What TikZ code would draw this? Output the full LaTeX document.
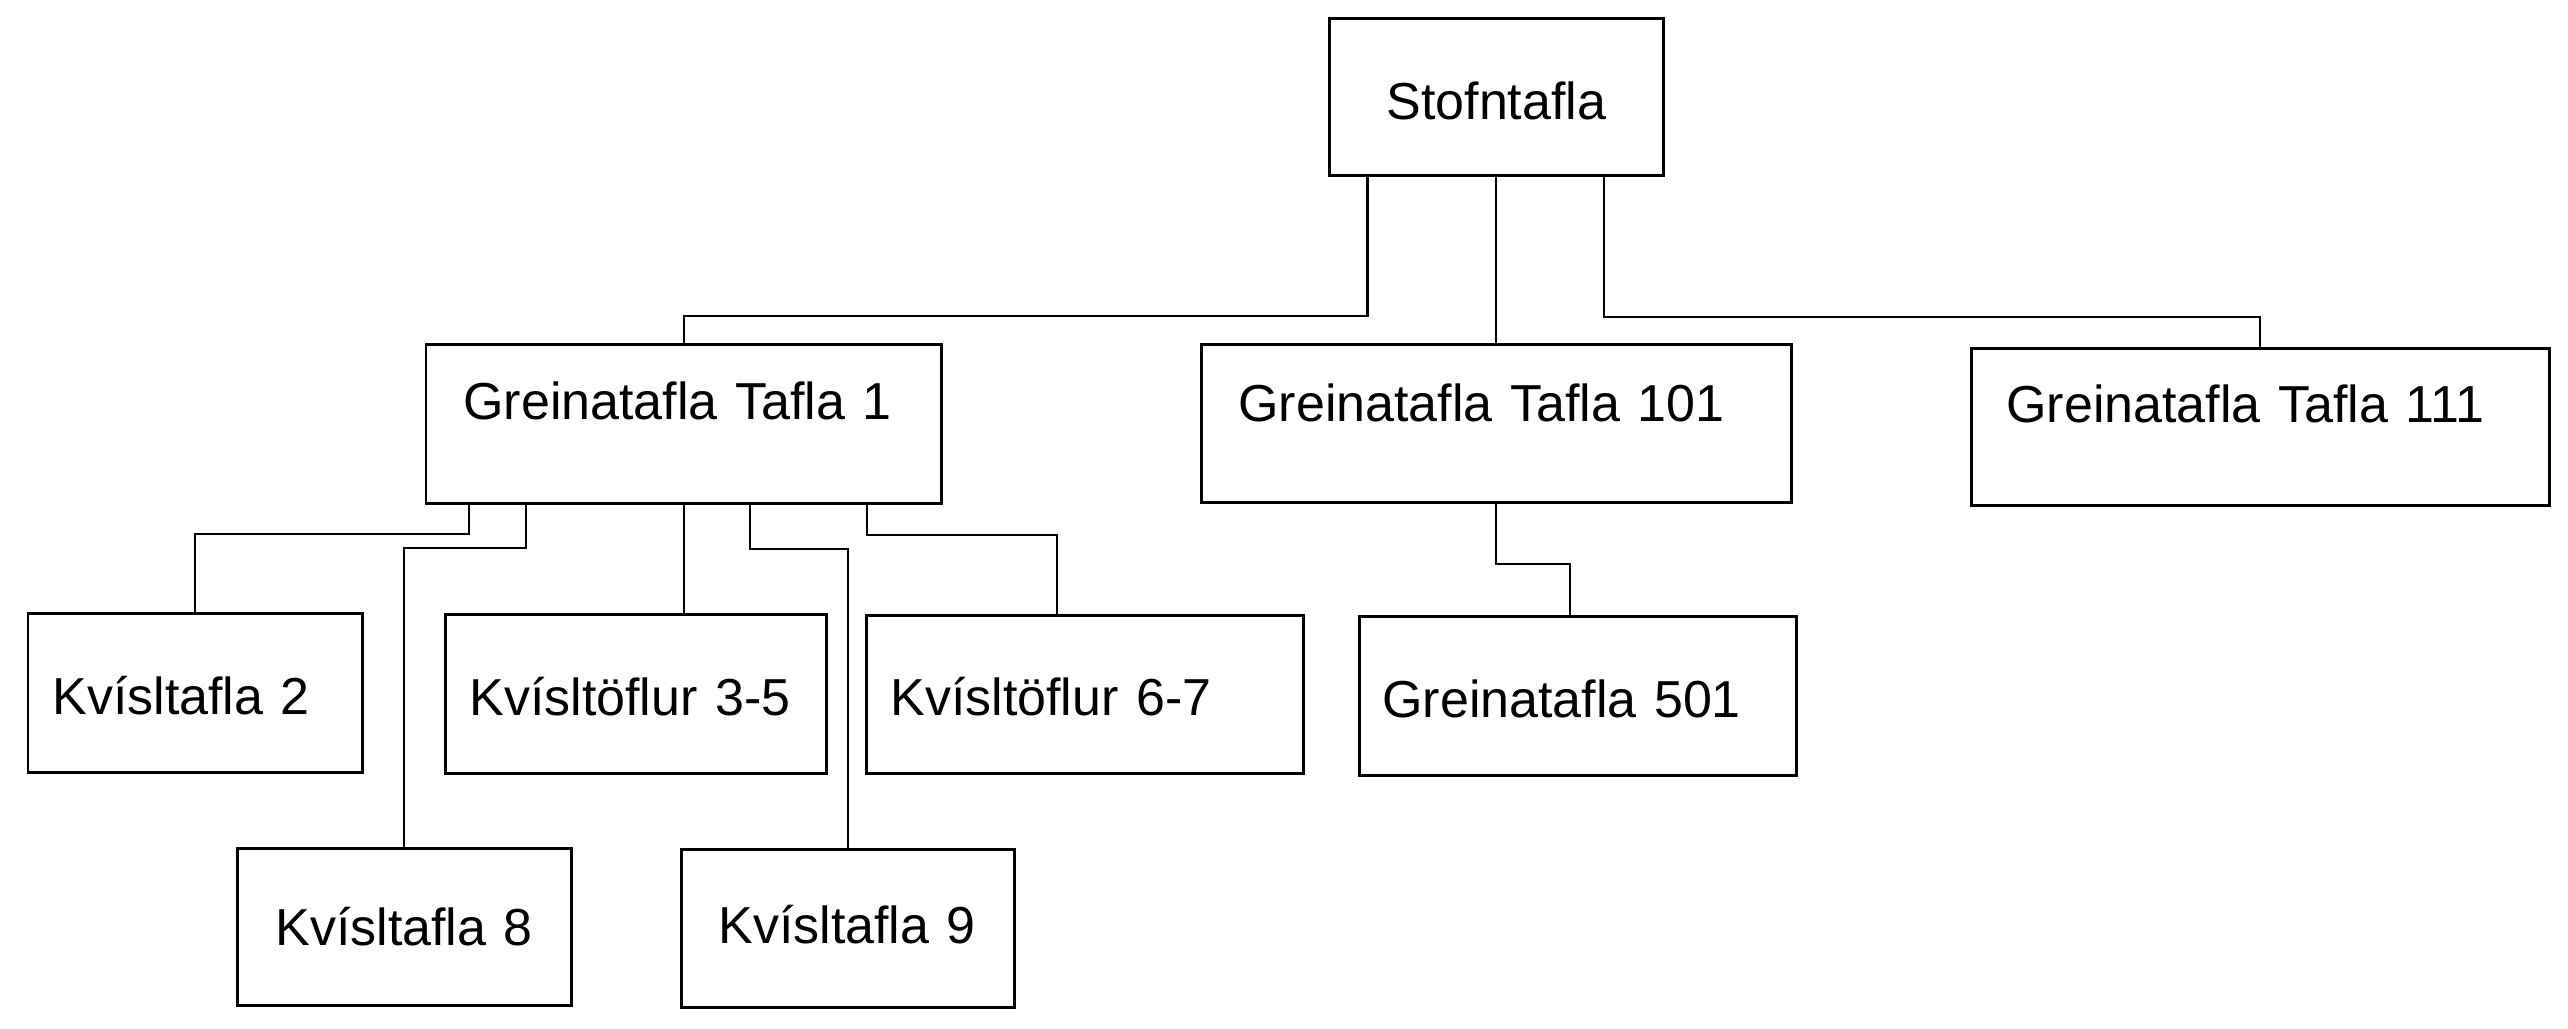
\documentclass[tikz,border=0pt]{standalone}
\usepackage{fontspec}
\setmainfont{Liberation Sans}
\usepackage{tikz}

\begin{document}
\begin{tikzpicture}[line width=0.6pt, every node/.style={draw, rectangle, anchor=north west, inner ysep=0pt, align=left, line width=0.8pt, font=\fontsize{14.8}{17}\selectfont}]
\useasboundingbox (0,0) rectangle (25.68,10.29);
\node[inner xsep=0.4cm, text width=2.54cm, align=center, text height=1.01cm, text depth=0.56cm] (S0) at (13.28,10.12) {Stofntafla};
\node[inner xsep=0.375cm, text width=4.405cm, text height=0.75cm, text depth=0.84cm] (G1) at (4.245,6.86) {Greinatafla Tafla 1};
\node[inner xsep=0.37cm, text width=5.16cm, text height=0.77cm, text depth=0.81cm] (G101) at (12.00,6.86) {Greinatafla Tafla 101};
\node[inner xsep=0.35cm, text width=5.08cm, text height=0.74cm, text depth=0.83cm] (G111) at (19.70,6.82) {Greinatafla Tafla 111};
\node[inner xsep=0.245cm, text width=2.855cm, text height=1.01cm, text depth=0.58cm] (K2) at (0.265,4.17) {Kvísltafla 2};
\node[inner xsep=0.24cm, text width=3.33cm, text height=1.01cm, text depth=0.58cm] (K35) at (4.44,4.16) {Kvísltöflur 3-5};
\node[inner xsep=0.24cm, text width=3.89cm, text height=1.00cm, text depth=0.58cm] (K67) at (8.65,4.15) {Kvísltöflur 6-7};
\node[inner xsep=0.23cm, text width=3.91cm, text height=1.01cm, text depth=0.58cm] (G501) at (13.58,4.14) {Greinatafla 501};
\node[inner xsep=0.38cm, text width=2.58cm, text height=0.97cm, text depth=0.605cm] (K8) at (2.36,1.82) {Kvísltafla 8};
\node[inner xsep=0.37cm, text width=2.59cm, text height=0.94cm, text depth=0.64cm] (K9) at (6.80,1.81) {Kvísltafla 9};
\draw ([xshift=0.395cm]S0.south west) -- ++(0,-1.395) -| (G1.north);
\draw (S0.south) -- (S0.south |- G101.north);
\draw ([xshift=-0.61cm]S0.south east) -- ++(0,-1.40) -| (G111.north);
\draw ([xshift=0.445cm]G1.south west) -- ++(0,-0.29) -| (K2.north);
\draw ([xshift=1.015cm]G1.south west) -- ++(0,-0.43) -| (K8.north);
\draw (G1.south) -- (G1.south |- K35.north);
\draw ([xshift=3.255cm]G1.south west) -- ++(0,-0.445) -| (K9.north);
\draw ([xshift=4.425cm]G1.south west) -- ++(0,-0.30) -| ([xshift=-0.275cm]K67.north);
\draw (G101.south) -- ++(0,-0.60) -| ([xshift=-0.075cm]G501.north);
\end{tikzpicture}
\end{document}
